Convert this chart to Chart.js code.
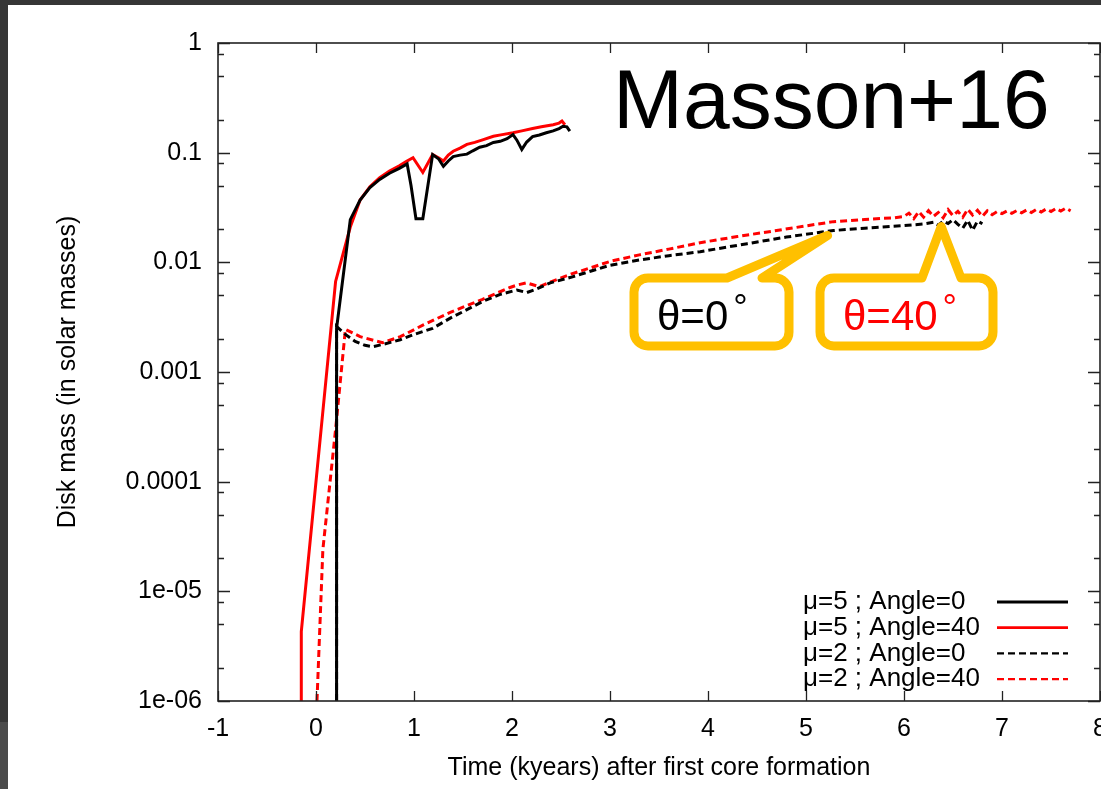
<!DOCTYPE html>
<html>
<head>
<meta charset="utf-8">
<script src="https://cdn.jsdelivr.net/npm/chart.js@4.4.1/dist/chart.umd.min.js"></script>
<style>
  html, body { margin: 0; padding: 0; background: #fff; }
  #wrap { width: 1101px; height: 789px; }
</style>
</head>
<body>
<div id="wrap"><canvas id="diskChart" width="1101" height="789"></canvas></div>
<script>
// mu=5 ; Angle=0 (black solid)
const timeMu5A0 = [0.21, 0.21, 0.35, 0.45, 0.55, 0.65, 0.75, 0.85, 0.93, 0.97, 1.02, 1.09, 1.19, 1.25, 1.30, 1.35, 1.40, 1.47, 1.54, 1.60, 1.67, 1.74, 1.81, 1.88, 1.95, 2.01, 2.05, 2.10, 2.15, 2.21, 2.28, 2.35, 2.42, 2.48, 2.52, 2.56, 2.59];
const massMu5A0 = [1e-6, 0.0025, 0.0245, 0.037, 0.048, 0.057, 0.065, 0.072, 0.079, 0.05, 0.025, 0.025, 0.096, 0.088, 0.075, 0.084, 0.092, 0.095, 0.097, 0.104, 0.112, 0.116, 0.124, 0.127, 0.134, 0.146, 0.13, 0.107, 0.125, 0.14, 0.145, 0.152, 0.158, 0.166, 0.174, 0.172, 0.157];

// mu=5 ; Angle=40 (red solid)
const timeMu5A40 = [-0.15, -0.15, 0.20, 0.35, 0.45, 0.55, 0.65, 0.75, 0.85, 0.92, 0.99, 1.09, 1.19, 1.25, 1.30, 1.35, 1.40, 1.47, 1.54, 1.62, 1.70, 1.81, 1.90, 2.01, 2.10, 2.21, 2.30, 2.42, 2.48, 2.51, 2.54];
const massMu5A40 = [1e-6, 4.3e-6, 0.0067, 0.021, 0.037, 0.049, 0.059, 0.068, 0.076, 0.083, 0.09, 0.066, 0.096, 0.09, 0.084, 0.095, 0.103, 0.11, 0.119, 0.124, 0.131, 0.141, 0.146, 0.152, 0.158, 0.166, 0.172, 0.18, 0.186, 0.194, 0.18];

// mu=2 ; Angle=0 (black dashed)
const timeMu2A0 = [0.21, 0.21, 0.30, 0.40, 0.50, 0.58, 0.70, 0.86, 1.00, 1.19, 1.37, 1.54, 1.70, 1.88, 2.05, 2.15, 2.25, 2.39, 2.60, 2.80, 3.00, 3.30, 3.60, 3.92, 4.40, 4.80, 5.28, 5.60, 6.00, 6.20, 6.30, 6.35, 6.40, 6.45, 6.50, 6.55, 6.60, 6.65, 6.70, 6.75, 6.80];
const massMu2A0 = [1e-6, 0.0026, 0.0022, 0.0019, 0.00175, 0.0017, 0.0018, 0.00197, 0.0022, 0.0025, 0.0031, 0.0037, 0.0044, 0.0051, 0.0056, 0.0053, 0.0057, 0.0065, 0.0073, 0.0083, 0.0094, 0.0105, 0.0115, 0.0125, 0.0148, 0.0170, 0.0195, 0.0205, 0.0216, 0.0224, 0.0232, 0.0218, 0.0238, 0.0226, 0.0245, 0.0222, 0.0205, 0.0242, 0.0196, 0.0238, 0.0225];

// mu=2 ; Angle=40 (red dashed)
const timeMu2A40 = [0.01, 0.07, 0.20, 0.30, 0.45, 0.68, 0.86, 1.10, 1.37, 1.70, 1.98, 2.05, 2.15, 2.28, 2.39, 2.60, 2.80, 3.00, 3.30, 3.60, 3.92, 4.30, 4.70, 5.00, 5.28, 5.60, 5.90,
  6.00, 6.05, 6.10, 6.15, 6.20, 6.25, 6.30, 6.35, 6.40, 6.45, 6.50, 6.55, 6.60, 6.65, 6.70, 6.75, 6.80, 6.85, 6.90, 6.95,
  7.00, 7.05, 7.10, 7.15, 7.20, 7.25, 7.30, 7.35, 7.40, 7.45, 7.50, 7.55, 7.60, 7.65, 7.70];
const massMu2A40 = [1e-6, 2.4e-5, 3e-4, 0.00245, 0.0021, 0.00185, 0.0021, 0.0027, 0.0035, 0.0046, 0.0059, 0.0062, 0.0065, 0.006, 0.0066, 0.0078, 0.0089, 0.0102, 0.0117, 0.0132, 0.0151, 0.0172, 0.0195, 0.0215, 0.0235, 0.0246, 0.0255,
  0.0262, 0.0281, 0.0250, 0.0290, 0.0258, 0.0296, 0.0262, 0.0285, 0.0255, 0.0302, 0.0266, 0.0292, 0.0258, 0.0305, 0.0270, 0.0298, 0.0262, 0.0295, 0.0272, 0.0290,
  0.0278, 0.0294, 0.0280, 0.0296, 0.0283, 0.0300, 0.0284, 0.0303, 0.0288, 0.0306, 0.0291, 0.0310, 0.0294, 0.0312, 0.0295];

const seriesLabels = ["\u03bc=5 ; Angle=0", "\u03bc=5 ; Angle=40", "\u03bc=2 ; Angle=0", "\u03bc=2 ; Angle=40"];

// axes
const xMin = -1, xMax = 8;
const yTickValues = [1, 0.1, 0.01, 0.001, 0.0001, 1e-5, 1e-6];
const yTickLabels = ["1", "0.1", "0.01", "0.001", "0.0001", "1e-05", "1e-06"];
const yMinorFactors = [2, 5, 8];

// callout tips (data coords)
const calloutTips = [[5.22, 0.0176], [6.38, 0.0212]];
const calloutTexts = ["\u03b8=0", "\u03b8=40"];

const FONT = "'Liberation Sans', Arial, Helvetica, sans-serif";

function toPoints(xs, ys) {
  return xs.map((x, i) => ({ x: x, y: ys[i] }));
}

function drawCallout(ctx, box, base, tip) {
  const [l, t, r, b] = box;
  const rad = 14;
  ctx.beginPath();
  ctx.moveTo(l + rad, t);
  ctx.lineTo(base[0], t);
  ctx.lineTo(tip.x, tip.y);
  ctx.lineTo(base[1], t);
  ctx.lineTo(r - rad, t);
  ctx.arcTo(r, t, r, t + rad, rad);
  ctx.lineTo(r, b - rad);
  ctx.arcTo(r, b, r - rad, b, rad);
  ctx.lineTo(l + rad, b);
  ctx.arcTo(l, b, l, b - rad, rad);
  ctx.lineTo(l, t + rad);
  ctx.arcTo(l, t, l + rad, t, rad);
  ctx.closePath();
  ctx.fillStyle = "#fff";
  ctx.fill();
  ctx.lineWidth = 9;
  ctx.lineJoin = "round";
  ctx.strokeStyle = "#ffc000";
  ctx.stroke();
}

const decorPlugin = {
  id: "decor",
  beforeDraw(chart) {
    const ctx = chart.ctx;
    ctx.save();
    ctx.fillStyle = "#fff";
    ctx.fillRect(0, 0, chart.width, chart.height);
    ctx.fillStyle = "#363636";
    ctx.fillRect(0, 0, chart.width, 5);
    ctx.fillRect(0, 0, 8, 722);
    ctx.fillStyle = "#4b4b4b";
    ctx.fillRect(0, 722, 8, chart.height - 722);
    ctx.restore();
  },
  afterDatasetsDraw(chart) {
    const ctx = chart.ctx;
    const area = chart.chartArea;
    const xs = chart.scales.x, ys = chart.scales.y;
    ctx.save();

    // inward tick marks on all four sides
    ctx.strokeStyle = "#222";
    ctx.lineWidth = 1.3;
    ctx.beginPath();
    xs.ticks.forEach(t => {
      const px = Math.round(xs.getPixelForValue(t.value)) + 0.5;
      ctx.moveTo(px, area.bottom); ctx.lineTo(px, area.bottom - 10);
      ctx.moveTo(px, area.top); ctx.lineTo(px, area.top + 10);
    });
    yTickValues.forEach(v => {
      const py = Math.round(ys.getPixelForValue(v)) + 0.5;
      ctx.moveTo(area.left, py); ctx.lineTo(area.left + 12, py);
      ctx.moveTo(area.right, py); ctx.lineTo(area.right - 12, py);
      if (v < 1) {
        yMinorFactors.forEach(f => {
          const pm = Math.round(ys.getPixelForValue(v * f)) + 0.5;
          ctx.moveTo(area.left, pm); ctx.lineTo(area.left + 6, pm);
          ctx.moveTo(area.right, pm); ctx.lineTo(area.right - 6, pm);
        });
      }
    });
    ctx.stroke();

    ctx.lineWidth = 1.6;
    ctx.strokeRect(area.left, area.top, area.right - area.left, area.bottom - area.top);

    // legend: text on the left, line sample on the right
    ctx.font = "26px " + FONT;
    ctx.textBaseline = "middle";
    ctx.textAlign = "left";
    chart.data.datasets.forEach((ds, i) => {
      const y = 602 + i * 25.7;
      ctx.fillStyle = "#000";
      ctx.fillText(ds.label, 803, y);
      ctx.beginPath();
      ctx.setLineDash(ds.borderDash || []);
      ctx.strokeStyle = ds.borderColor;
      ctx.lineWidth = ds.borderDash ? 2.2 : 2.8;
      ctx.moveTo(997, y); ctx.lineTo(1068, y);
      ctx.stroke();
      ctx.setLineDash([]);
    });

    // title text
    ctx.font = "84px " + FONT;
    ctx.textBaseline = "alphabetic";
    ctx.fillStyle = "#000";
    ctx.fillText("Masson+16", 613, 128);

    // callouts
    const tips = calloutTips.map(c => ({ x: xs.getPixelForValue(c[0]), y: ys.getPixelForValue(c[1]) }));
    drawCallout(ctx, [634, 278, 789, 346], [727, 762], tips[0]);
    drawCallout(ctx, [820, 278, 993, 346], [922, 961], tips[1]);

    ctx.font = "42px " + FONT;
    ctx.fillStyle = "#000";
    ctx.fillText(calloutTexts[0], 657, 330);
    let w = ctx.measureText(calloutTexts[0]).width;
    ctx.font = "36px " + FONT;
    ctx.fillText("\u00b0", 657 + w + 5, 320);

    ctx.font = "42px " + FONT;
    ctx.fillStyle = "#ff0000";
    ctx.fillText(calloutTexts[1], 843, 330);
    w = ctx.measureText(calloutTexts[1]).width;
    ctx.font = "36px " + FONT;
    ctx.fillText("\u00b0", 843 + w + 5, 320);

    ctx.restore();
  }
};

const ctx = document.getElementById("diskChart").getContext("2d");
new Chart(ctx, {
  type: "line",
  data: {
    datasets: [
      { label: seriesLabels[0], data: toPoints(timeMu5A0, massMu5A0), borderColor: "#000000", borderWidth: 3 },
      { label: seriesLabels[1], data: toPoints(timeMu5A40, massMu5A40), borderColor: "#ff0000", borderWidth: 3 },
      { label: seriesLabels[2], data: toPoints(timeMu2A0, massMu2A0), borderColor: "#000000", borderWidth: 3, borderDash: [7, 4] },
      { label: seriesLabels[3], data: toPoints(timeMu2A40, massMu2A40), borderColor: "#ff0000", borderWidth: 3, borderDash: [7, 4] }
    ]
  },
  options: {
    responsive: false,
    animation: false,
    events: [],
    elements: { point: { radius: 0 }, line: { tension: 0 } },
    layout: { padding: { top: 43, right: 1, left: 0, bottom: 0 } },
    plugins: { legend: { display: false }, tooltip: { enabled: false } },
    scales: {
      x: {
        type: "linear",
        min: xMin,
        max: xMax,
        grid: { display: false, drawTicks: false },
        border: { display: false },
        ticks: { stepSize: 1, padding: 13, color: "#000", font: { family: FONT, size: 25 } },
        title: { display: true, text: "Time (kyears) after first core formation", color: "#000", font: { family: FONT, size: 25 }, padding: { bottom: 6 } },
        afterFit(scale) { scale.height = 88; scale.paddingLeft = 0; scale.paddingRight = 0; }
      },
      y: {
        type: "logarithmic",
        min: 1e-6,
        max: 1,
        grid: { display: false, drawTicks: false },
        border: { display: false },
        afterBuildTicks(scale) { scale.ticks = yTickValues.map(v => ({ value: v })); },
        ticks: {
          padding: 16,
          color: "#000",
          font: { family: FONT, size: 25 },
          callback: (v) => yTickLabels[yTickValues.indexOf(v)]
        },
        title: { display: true, text: "Disk mass (in solar masses)", color: "#000", font: { family: FONT, size: 25 }, padding: { top: 53 } },
        afterFit(scale) { scale.width = 218; scale.paddingTop = 0; scale.paddingBottom = 0; }
      }
    }
  },
  plugins: [decorPlugin]
});
</script>
</body>
</html>
